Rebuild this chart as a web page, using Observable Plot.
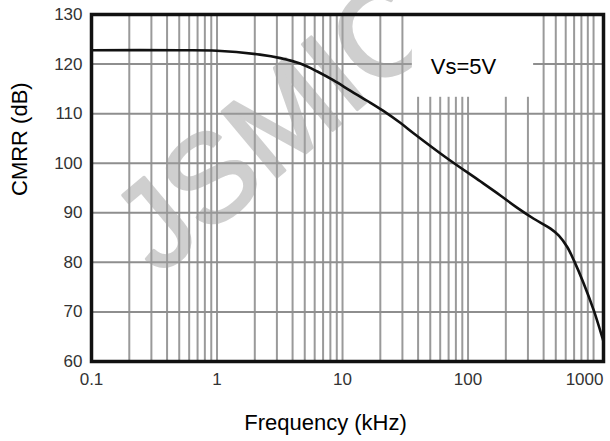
<!DOCTYPE html>
<html>
<head>
<meta charset="utf-8">
<script src="https://cdn.jsdelivr.net/npm/d3@7"></script>
<script src="https://cdn.jsdelivr.net/npm/@observablehq/plot@0.6"></script>
<style>
  html, body { margin: 0; padding: 0; background: #fff; }
  #chart svg { display: block; }
</style>
</head>
<body>
<div id="chart"></div>
<script>
// Curve (frequency in kHz, CMRR in dB)
const freqKHz = [0.1, 0.5, 1, 2.2, 3.2, 4.6, 6.3, 8.5, 11.6, 15.7, 21, 29, 37, 68, 126, 181, 247, 334, 454, 529, 617, 697, 836, 1004, 1172, 1200];
const cmrrDb  = [122.8, 122.8, 122.7, 121.9, 121.2, 120.1, 118.5, 116.7, 114.6, 112.6, 110.6, 108.1, 106.0, 101.0, 96.3, 93.5, 91.0, 88.8, 86.8, 85.4, 83.1, 80.4, 75.7, 70.3, 64.9, 64.0];

// Axes
const xDomain = [0.1, 1200];
const yDomain = [60, 130];
const xTickLabels = [0.1, 1, 10, 100];
const xLastTickLabel = [1000];
const yTickLabels = [60, 70, 80, 90, 100, 110, 120, 130];
const xGridTicks = [];
for (const p of [0.1, 1, 10, 100, 1000]) for (let m = 1; m <= 9; m++) { const v = +(m * p).toPrecision(3); if (v <= 1200) xGridTicks.push(v); }

// Annotation
const noteText = ["Vs=5V"];
const noteX = [92];
const noteY = [119.5];
const noteBoxX = [36, 333];
const noteBoxY = [113.3, 130];
const watermark = ["JSMIC"];

const data = freqKHz.map((f, i) => ({f, db: cmrrDb[i]}));
const narrow = "'Liberation Sans Narrow', 'Arial Narrow', 'Liberation Sans', Arial, sans-serif";
const sans = "'Liberation Sans', Arial, Helvetica, sans-serif";

const chart = Plot.plot({
  width: 610,
  height: 441,
  marginLeft: 91,
  marginRight: 7,
  marginTop: 14,
  marginBottom: 80,
  style: {fontFamily: sans, background: "#fff"},
  x: {type: "log", domain: xDomain},
  y: {domain: yDomain},
  marks: [
    Plot.gridX(xGridTicks, {stroke: "#9a9a9a", strokeOpacity: 1, strokeWidth: 2}),
    Plot.gridY(yTickLabels, {stroke: "#8e8e8e", strokeOpacity: 1, strokeWidth: 2}),
    Plot.text(watermark, {frameAnchor: "bottom-left", dx: 67, dy: -85, rotate: -40, textAnchor: "start", lineAnchor: "bottom",
      fontSize: 124, fontWeight: "normal", fontFamily: sans, fill: "#a0a0a0", stroke: "#a0a0a0", strokeWidth: 3, opacity: 0.5}),
    Plot.rect([0], {x1: () => noteBoxX[0], x2: () => noteBoxX[1], y1: () => noteBoxY[0], y2: () => noteBoxY[1], fill: "#fff"}),
    Plot.line(data, {x: "f", y: "db", stroke: "#111", strokeWidth: 2.6, curve: "catmull-rom"}),
    Plot.frame({stroke: "#111", strokeWidth: 3.5}),
    Plot.axisX(xTickLabels, {tickSize: 0, tickPadding: 11, fontSize: 17, fontFamily: narrow, color: "#333", tickFormat: d => String(d), label: null}),
    Plot.axisX(xLastTickLabel, {tickSize: 0, tickPadding: 11, dx: -9, fontSize: 17, fontFamily: narrow, color: "#333", tickFormat: d => String(d), label: null}),
    Plot.axisY(yTickLabels, {tickSize: 0, tickPadding: 9, fontSize: 17, fontFamily: narrow, color: "#333", label: null}),
    Plot.text(noteText, {x: (d, i) => noteX[i], y: (d, i) => noteY[i], text: d => d, fontSize: 22, fontFamily: sans, fill: "#000"}),
    Plot.text(["Frequency (kHz)"], {frameAnchor: "bottom", dx: -22, dy: 68, text: d => d, fontSize: 22, fontFamily: sans, fill: "#000"}),
    Plot.text(["CMRR (dB)"], {frameAnchor: "left", dx: -72, dy: 8, rotate: -90, text: d => d, fontSize: 22, fontFamily: sans, fill: "#000"})
  ]
});
document.getElementById("chart").appendChild(chart);
</script>
</body>
</html>
